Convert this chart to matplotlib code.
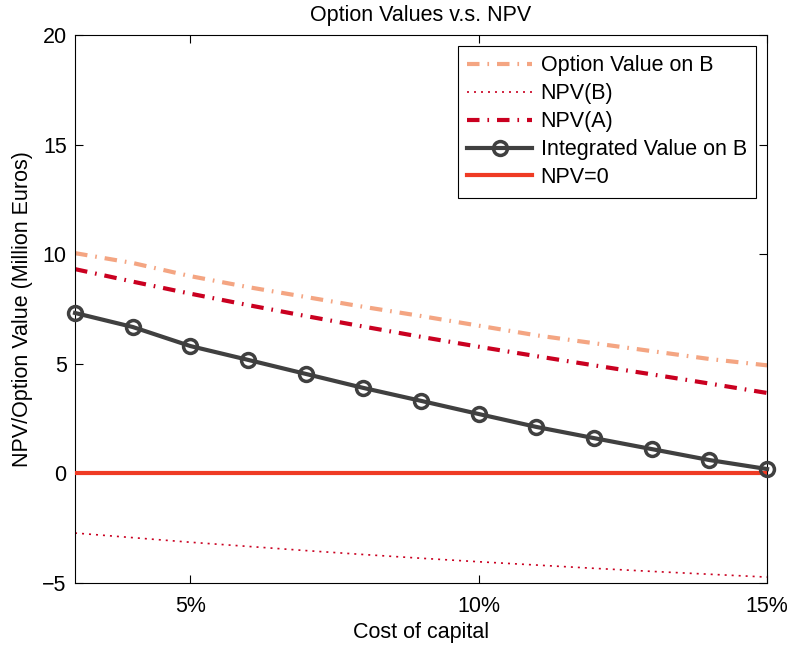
import numpy as np
import matplotlib.pyplot as plt

plt.rcParams['font.family'] = ['Liberation Sans', 'DejaVu Sans']

# cost of capital in percent
rate = [3, 4, 5, 6, 7, 8, 9, 10, 11, 12, 13, 14, 15]
option_b = [10.05, 9.6, 9.0, 8.5, 8.05, 7.6, 7.18, 6.74, 6.3, 5.94, 5.58, 5.22, 4.93]
npv_b = [-2.72, -2.93, -3.14, -3.33, -3.52, -3.70, -3.87, -4.03, -4.18, -4.33, -4.47, -4.60, -4.73]
npv_a = [9.32, 8.75, 8.2, 7.68, 7.18, 6.7, 6.23, 5.78, 5.35, 4.93, 4.52, 4.1, 3.67]
integrated = [7.32, 6.68, 5.81, 5.18, 4.54, 3.90, 3.31, 2.71, 2.12, 1.61, 1.11, 0.61, 0.20]
xticks = [5, 10, 15]
xticklabels = ['5%', '10%', '15%']

fs = 15.5
fig = plt.figure(figsize=(7.9, 6.45), dpi=100)
ax = fig.add_axes([0.095, 0.0961, 0.876, 0.8496])

dashdot = (3.0, 1.9, 0.4, 1.9)
ax.plot(rate, option_b, color='#F4A582', lw=3, dashes=dashdot, label='Option Value on B')
ax.plot(rate, npv_b, color='#CA0020', lw=1.2, dashes=(1.2, 3.0), label='NPV(B)')
ax.plot(rate, npv_a, color='#CA0020', lw=3, dashes=dashdot, label='NPV(A)')
ax.plot(rate, integrated, color='#404040', lw=3, marker='o', ms=10, mfc='none',
        mew=2.5, label='Integrated Value on B', clip_on=False, zorder=4)
ax.plot([rate[0], rate[-1]], [0, 0], color='#EF3B24', lw=3, label='NPV=0', zorder=3)

ax.set_xlim(3, 15)
ax.set_ylim(-5, 20)
ax.set_xticks(xticks)
ax.set_xticklabels(xticklabels)
ax.set_yticks([-5, 0, 5, 10, 15, 20])
ax.set_yticklabels(['\u22125', '0', '5', '10', '15', '20'])
ax.tick_params(direction='in', top=True, right=True, labelsize=fs, length=6, pad=6)
ax.tick_params(axis='x', pad=9)
ax.set_xlabel('Cost of capital', fontsize=fs, labelpad=4)
ax.set_ylabel('NPV/Option Value (Million Euros)', fontsize=fs, labelpad=7)
ax.set_title('Option Values v.s. NPV', fontsize=fs, pad=10)

leg = ax.legend(loc='upper right', fontsize=fs, fancybox=False, edgecolor='black',
                framealpha=1, handlelength=3.0, handletextpad=0.4, numpoints=1,
                borderaxespad=0.5, labelspacing=0.32, borderpad=0.45)
leg.get_frame().set_linewidth(0.8)

fig.savefig('out.png', dpi=100)
